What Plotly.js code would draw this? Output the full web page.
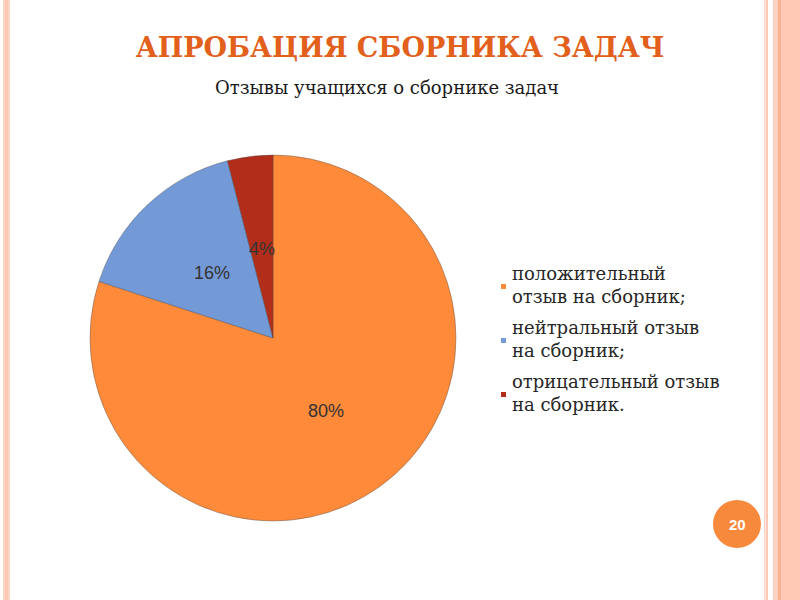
<!DOCTYPE html>
<html>
<head>
<meta charset="utf-8">
<script src="https://cdn.plot.ly/plotly-3.0.1.min.js"></script>
<style>html,body{margin:0;padding:0;background:#fff;}#chart{width:800px;height:600px;}</style>
</head>
<body>
<div id="chart"></div>
<script>
// ---- data ----
const categories = ["положительный<br>отзыв на сборник;", "нейтральный отзыв<br>на сборник;", "отрицательный отзыв<br>на сборник."];
const values = [80, 16, 4];
const percentLabels = ["80%", "16%", "4%"];
const sliceColors = ["#FF8A3A", "#7399D6", "#B22E1B"];
const titleText = "АПРОБАЦИЯ СБОРНИКА ЗАДАЧ";
const subtitleText = "Отзывы учащихся о сборнике задач";
const pageNumber = "20";

// ---- layout helpers (pixel -> paper) ----
const W = 800, H = 600;
const px = x => x / W;
const py = y => 1 - y / H;
const SERIF = "DejaVu Serif";
const SANS = "'Liberation Sans', Arial, sans-serif";

const pieCx = 273, pieCy = 338, pieR = 183;
const domX = [px(pieCx - pieR), px(pieCx + pieR)];
const domY = [py(pieCy + pieR), py(pieCy - pieR)];

const trace = {
  type: "pie",
  labels: categories,
  values: values,
  sort: false,
  direction: "clockwise",
  rotation: 0,
  textinfo: "none",
  hoverinfo: "label+percent",
  marker: { colors: sliceColors, line: { color: "rgba(70,70,70,0.55)", width: 0.7 } },
  domain: { x: domX, y: domY },
  showlegend: false
};

const total = values.reduce((a, b) => a + b, 0);
const annotations = [];
let cum = 0;
values.forEach((v, i) => {
  const theta = 2 * Math.PI * (cum + v / 2) / total;
  cum += v;
  const rr = 0.49 * pieR;
  annotations.push({
    xref: "paper", yref: "paper",
    x: px(pieCx + rr * Math.sin(theta)),
    y: py(pieCy - rr * Math.cos(theta)),
    text: percentLabels[i], showarrow: false,
    xanchor: "center", yanchor: "middle",
    font: { family: SANS, size: 18, color: "#333333" }
  });
});

annotations.push({
  xref: "paper", yref: "paper", x: px(387), y: py(87),
  text: subtitleText, showarrow: false, xanchor: "center", yanchor: "middle",
  font: { family: SERIF, size: 18, color: "#1a1a1a" }
});

const legendTop = 285, legendStep = 54;
const shapes = [];
categories.forEach((c, i) => {
  const cy = legendTop + i * legendStep;
  annotations.push({
    xref: "paper", yref: "paper", x: px(510), y: py(cy),
    text: c, showarrow: false, xanchor: "left", yanchor: "middle", align: "left",
    font: { family: SERIF, size: 18, color: "#262626" }
  });
  shapes.push({
    type: "rect", xref: "paper", yref: "paper",
    x0: px(501), x1: px(506), y0: py(cy + 4), y1: py(cy - 1),
    fillcolor: sliceColors[i], line: { width: 0 }
  });
});

shapes.push({
  type: "circle", xref: "paper", yref: "paper",
  x0: px(713), x1: px(761), y0: py(548), y1: py(500),
  fillcolor: "#F7893C", line: { width: 0 }
});
annotations.push({
  xref: "paper", yref: "paper", x: px(737), y: py(524),
  text: "<b>" + pageNumber + "</b>", showarrow: false, xanchor: "center", yanchor: "middle",
  font: { family: SANS, size: 15, color: "#ffffff" }
});

const stripe = (x0, x1, color) => shapes.push({
  type: "rect", xref: "paper", yref: "paper", x0: px(x0), x1: px(x1), y0: 0, y1: 1,
  fillcolor: color, line: { width: 0 }, layer: "below"
});
stripe(3, 10, "#FDD5C6");
stripe(5, 8, "#FCC7B3");
stripe(764, 765.5, "#FCD3C3");
stripe(766, 768, "#FBC9B6");
stripe(773, 778, "#FDD2C1");
stripe(778, 781, "#F6B492");
stripe(781, 800, "#FFC9B6");

const layout = {
  width: W, height: H,
  margin: { l: 0, r: 0, t: 0, b: 0 },
  paper_bgcolor: "#ffffff",
  title: {
    text: titleText, x: px(400), xanchor: "center", y: py(48), yanchor: "middle",
    font: { family: SERIF, size: 27, color: "#E2601B", weight: "bold" }
  },
  annotations: annotations,
  shapes: shapes,
  showlegend: false
};

Plotly.newPlot("chart", [trace], layout, { displayModeBar: false, staticPlot: true });
</script>
</body>
</html>
